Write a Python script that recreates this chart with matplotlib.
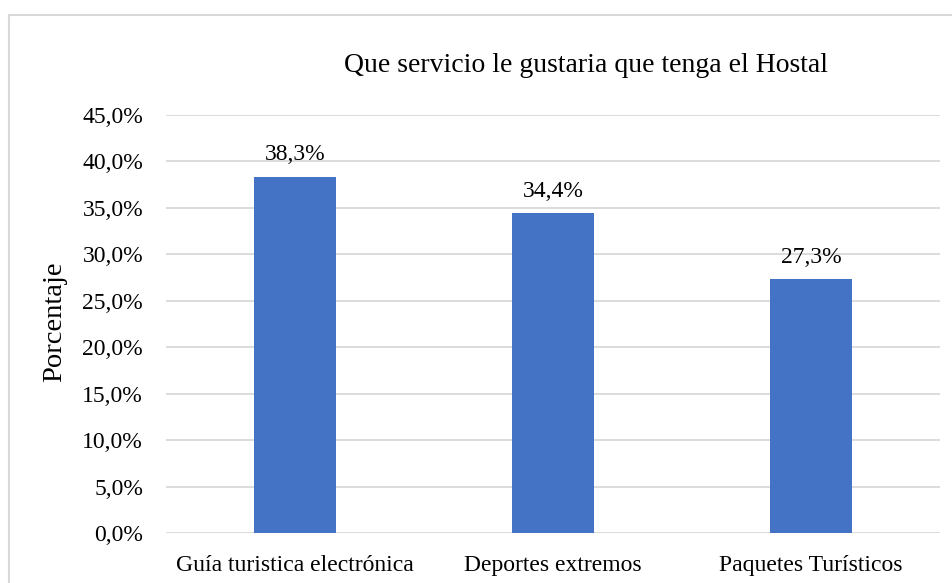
import matplotlib
matplotlib.use("Agg")
import matplotlib.pyplot as plt
from matplotlib.patches import Rectangle
from matplotlib.ticker import FuncFormatter, MultipleLocator

categories = ["Guía turistica electrónica", "Deportes extremos", "Paquetes Turísticos"]
values = [38.3, 34.4, 27.3]
title = "Que servicio le gustaria que tenga el Hostal"
ylabel = "Porcentaje"

plt.rcParams["font.family"] = ["Liberation Serif", "DejaVu Serif"]

W, H = 952, 583
fig = plt.figure(figsize=(W / 100, H / 100), dpi=100)
ax = fig.add_axes([166 / W, (H - 533) / H, (940 - 166) / W, (533 - 115) / H])

x = list(range(len(categories)))
bars = ax.bar(x, values, width=0.315, color="#4472C4", zorder=3)

ax.set_xlim(-0.5, len(categories) - 0.5)
ax.set_ylim(0, 45)
ax.yaxis.set_major_locator(MultipleLocator(5))
ax.yaxis.set_major_formatter(FuncFormatter(lambda v, p: f"{v:.1f}%".replace(".", ",")))
ax.grid(axis="y", color="#d9d9d9", linewidth=1.3, zorder=0)
for s in ax.spines.values():
    s.set_visible(False)
ax.tick_params(axis="both", length=0, labelsize=17, colors="#000000")
ax.tick_params(axis="y", pad=16.5)
ax.tick_params(axis="x", pad=16)
ax.set_xticks(x)
ax.set_xticklabels(categories)

for b, v in zip(bars, values):
    ax.annotate(f"{v:.1f}%".replace(".", ","), (b.get_x() + b.get_width() / 2, v),
                xytext=(0, 8.5), textcoords="offset points", ha="center", va="bottom",
                fontsize=17)

fig.text(586 / W, 1 - 66 / H, title, ha="center", va="center", fontsize=20)
fig.text(55 / W, 1 - 322 / H, ylabel, ha="center", va="center", rotation=90, fontsize=20.5)

fig.patches.append(Rectangle((9 / W, -0.1), 1.2, 1 - 15 / H + 0.1, transform=fig.transFigure,
                             fill=False, edgecolor="#d9d9d9", linewidth=1.5))

fig.savefig("out.png", dpi=100)
